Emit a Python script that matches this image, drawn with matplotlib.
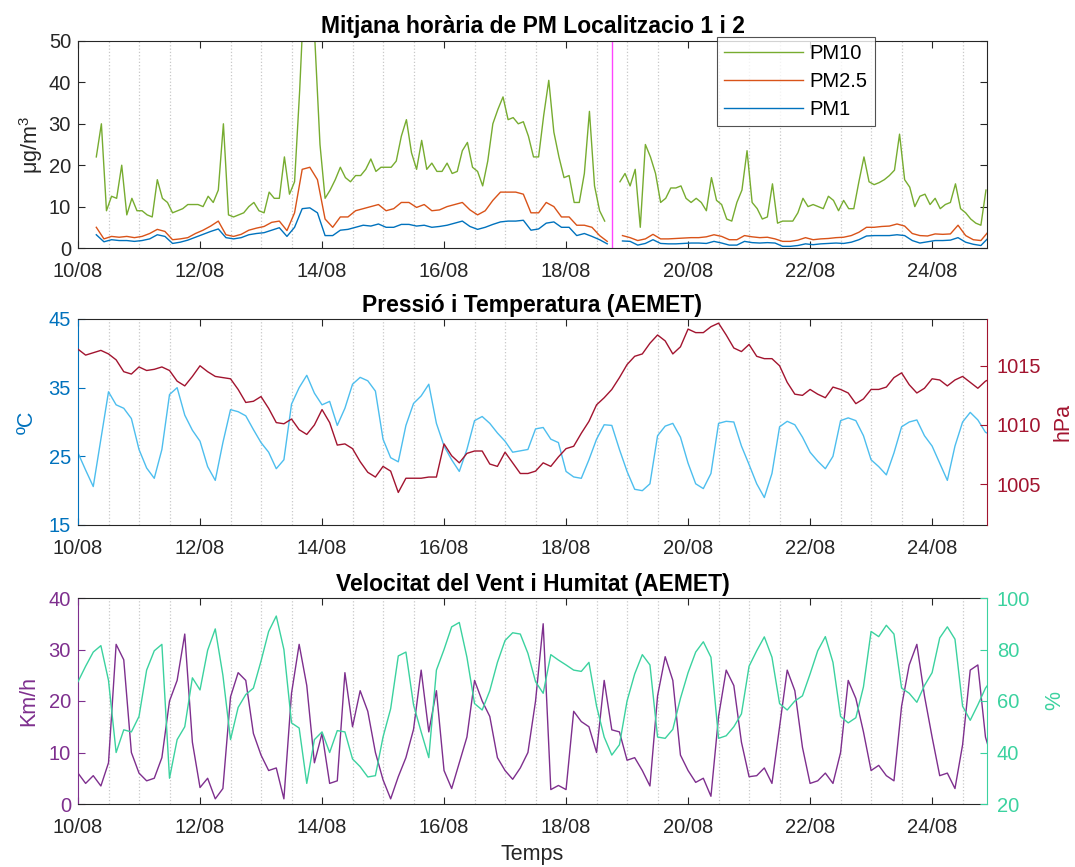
import numpy as np
import matplotlib
matplotlib.use('Agg')
import matplotlib.pyplot as plt

plt.rcParams['font.family'] = ['Liberation Sans', 'DejaVu Sans']
plt.rcParams['mathtext.fontset'] = 'custom'
plt.rcParams['mathtext.rm'] = 'Liberation Sans'

# x axis: days since 10/08 00:00
day_ticks = [0, 2, 4, 6, 8, 10, 12, 14]
day_labels = ['10/08', '12/08', '14/08', '16/08', '18/08', '20/08', '22/08', '24/08']
x_end = 14.9
station_change = 8.75   # canvi de localitzacio (18/08 18h)

# PM10, every 2 h from 10/08 07:12
pm10_start, pm10_step = 0.3, 1 / 12
pm10 = [22, 30, 9, 12.5, 12, 20, 8, 12, 9, 9, 8, 7.5, 16.5, 12, 11, 8.5, 9, 9.5,
        10.5, 10.5, 10.5, 10, 12.5, 11, 14, 30, 8, 7.5, 8, 8.5, 10, 11, 9, 8.5,
        13.5, 12, 12, 22, 13, 16, 38, 65, 62, 50, 25, 12, 14, 16.5, 19.5, 17, 16,
        17.5, 17.5, 19, 21.5, 18.5, 19.5, 19.5, 19.5, 21, 27, 31, 23, 19, 26, 19,
        20.5, 18.5, 18.5, 20.5, 18, 18.5, 23.5, 25.5, 19.5, 18.5, 15, 21, 30,
        33.5, 36.5, 31, 31.5, 30, 30.5, 27, 22, 22, 32, 40.5, 28, 22, 17, 17.5,
        11, 11, 18, 33, 15, 9, 6.5, np.nan, np.nan, 16, 18, 15, 19, 5, 25, 22,
        18, 11, 12, 14.5, 14.5, 15, 12, 11, 12, 11, 9, 17, 11.5, 10.5, 7, 6.5,
        11, 14, 23.5, 11, 9.5, 7, 7.5, 15.5, 6, 6.5, 6.5, 6.5, 8.5, 12, 10,
        10.5, 10, 9.5, 12.5, 11.5, 9, 11.5, 9.5, 9.5, 16, 22, 16, 15.3, 15.8,
        16.5, 17.5, 18.8, 27.5, 16.5, 14.7, 10, 12.5, 13, 10.5, 12, 9.5, 10.5,
        11, 15.5, 9.5, 8.5, 7, 6, 5.5, 14]

# PM2.5 and PM1, every 3 h from 10/08 07:12
pm_start, pm_step = 0.3, 1 / 8
pm25 = [5, 2.2, 2.8, 2.6, 2.8, 2.5, 2.8, 3.5, 4.5, 4, 2.0, 2.2, 2.5, 3.5, 4.3,
        5.3, 6.5, 3.2, 2.8, 3.3, 4.3, 4.8, 5.2, 6.2, 6.5, 4.2, 8.5, 19, 19.5,
        16.5, 7, 5, 7.5, 7.5, 9, 9.5, 10, 10.5, 9, 9.5, 11, 11, 9.8, 10.5, 9,
        9.2, 10, 10.5, 11, 9.2, 8, 9, 11.5, 13.5, 13.5, 13.5, 13, 8.5, 8.5, 11,
        10, 7.5, 7.5, 5.5, 5.5, 5, 3, 1.6, np.nan, 3, 2.5, 1.8, 2.2, 3.3, 2.2,
        2.2, 2.3, 2.4, 2.5, 2.5, 2.7, 3.2, 2.8, 2, 2, 3, 2.7, 2.5, 2.6, 2.2,
        1.6, 1.6, 1.9, 2.5, 2, 2.2, 2.3, 2.5, 2.6, 3, 3.8, 5, 5, 5.2, 5.3, 5.8,
        5.3, 3.5, 3, 2.9, 3.4, 3.3, 3.4, 5.5, 3, 2, 1.8, 4]
pm1 = [3.2, 1.5, 2, 1.8, 1.8, 1.6, 1.8, 2.2, 3.2, 2.8, 1.1, 1.4, 1.9, 2.6, 3.3,
       4, 4.6, 2.5, 2.2, 2.5, 3.2, 3.5, 3.7, 4.3, 4.9, 2.8, 5, 9.5, 9.7, 8.5,
       3, 3, 4.3, 4.5, 5, 5.5, 5.3, 5.8, 5, 5, 5.7, 5.7, 5.3, 5.5, 5, 5.2, 5.5,
       6, 6.5, 5.2, 4.5, 5, 5.7, 6.3, 6.5, 6.5, 6.7, 4.3, 4.6, 6, 6.3, 5, 5, 3,
       3.5, 2.8, 2, 1, np.nan, 1.7, 1.6, 0.7, 1.1, 2, 1.1, 1, 1, 1.1, 1.2, 1.2,
       1.1, 1.6, 1.2, 0.7, 0.7, 1.6, 1.3, 1.2, 1.3, 1.2, 0.4, 0.4, 0.6, 1, 0.8,
       1, 1.1, 1.2, 1.1, 1.4, 2, 2.9, 3, 3, 3, 3.2, 3, 1.8, 1.2, 1.5, 1.8, 1.8,
       1.9, 2.5, 1.4, 0.9, 0.6, 2.5]

# AEMET, every 3 h from 10/08 00:00
met_start, met_step = 0.0, 1 / 8
temperature = [25.5, 23, 20.6, 27.5, 34.4, 32.5, 32, 30.5, 26, 23.3, 21.8, 26,
               34, 35, 31, 28.8, 27.2, 23.5, 21.5, 27, 31.8, 31.5, 30.9, 28.9,
               27, 25.6, 23.2, 24.5, 32.6, 35, 36.8, 34.2, 32.5, 33, 29.5, 32,
               35.5, 36.5, 36, 34.5, 27.5, 24.8, 24.2, 29.5, 32.7, 33.8, 35.5,
               29.8, 26.5, 24.5, 22.8, 26, 30.2, 30.8, 29.8, 28.4, 27.2, 25.6,
               25.8, 26, 29, 29.2, 27.5, 27, 22.8, 22, 21.8, 24.5, 27.5, 29.6,
               29.5, 26, 22.8, 20.2, 20, 21, 28, 29.4, 29.8, 27.8, 24, 21, 20.3,
               22.5, 29.8, 30.1, 30, 26.5, 23.8, 21, 19, 22.5, 29.3, 30.1, 29.6,
               27.8, 25.6, 24.3, 23.2, 25, 30.2, 30.6, 30.2, 28, 24.5, 23.5,
               22.3, 25.5, 29.3, 30, 30.3, 28, 26.5, 24, 21.5, 26.5, 30, 31.4,
               30.3, 28.5, 28]
pressure = [1016.4, 1015.9, 1016.1, 1016.3, 1016, 1015.5, 1014.5, 1014.3,
            1014.9, 1014.6, 1014.7, 1014.9, 1014.6, 1013.7, 1013.3, 1014.1,
            1015, 1014.5, 1014.1, 1014, 1013.9, 1013, 1011.9, 1012, 1012.4,
            1011.4, 1010.2, 1010.1, 1010.5, 1009.6, 1009.2, 1010, 1011.3,
            1010.2, 1008.3, 1008.4, 1008, 1006.9, 1006, 1005.6, 1006.5, 1006.1,
            1004.3, 1005.5, 1005.5, 1005.5, 1005.6, 1005.6, 1008.4, 1007.4,
            1006.8, 1007.6, 1007.8, 1007.8, 1006.7, 1006.5, 1007.7, 1006.8,
            1005.9, 1005.9, 1006.1, 1006.8, 1006.5, 1007.3, 1008, 1008.2,
            1009.3, 1010.3, 1011.7, 1012.3, 1013, 1014, 1015.1, 1015.8, 1016,
            1016.9, 1017.6, 1017.1, 1016, 1016.6, 1018.1, 1017.8, 1017.8,
            1018.3, 1018.6, 1017.6, 1016.5, 1016.2, 1016.8, 1015.8, 1015.6,
            1015.6, 1015, 1013.6, 1012.6, 1012.5, 1013, 1012.6, 1012.3, 1013.2,
            1013, 1012.7, 1011.8, 1012.2, 1013, 1013, 1013.2, 1014, 1014.4,
            1013.4, 1012.7, 1013.1, 1013.9, 1013.8, 1013.3, 1013.8, 1014.1,
            1013.6, 1013.1, 1013.7, 1014]
wind = [6, 4, 5.5, 3.5, 8, 31, 28, 10, 6, 4.5, 5, 9, 20, 24, 33, 12, 3.2, 5, 1,
        3, 20.8, 25.5, 24, 13.7, 9.5, 6.5, 7, 1, 21.5, 31, 23, 8, 13.7, 4, 4.5,
        25.5, 15, 22, 18, 10, 4.7, 1, 5.3, 9, 14.5, 26, 14, 22, 6.5, 3, 8, 13,
        24, 20, 17, 9, 6.5, 4.8, 7, 10, 20, 35, 2.8, 3.6, 2.8, 18, 16, 15, 10,
        24, 14.4, 14, 8.5, 9, 6.5, 3.5, 21, 28.6, 24, 9.5, 6.5, 4.2, 5, 1.5,
        17, 26, 23, 12, 5.3, 5.5, 7, 4, 15, 26, 22, 11, 4, 4.5, 6, 4, 10, 24,
        20.5, 14, 6.5, 7.5, 5.5, 4.5, 19, 27, 31, 21, 13, 5.5, 6, 3, 11.5, 26,
        27, 13, 8]
humidity = [67.5, 73.5, 79, 81.5, 68, 40, 48.8, 48, 54, 72, 79.5, 82, 30, 45,
            50, 69, 64.3, 79.7, 88, 70, 45, 57.5, 62.5, 65, 75.5, 87, 93, 80,
            51.5, 49.5, 28, 45, 48, 40, 48.5, 48, 37.5, 34.5, 30.5, 31, 46, 57,
            77.5, 79, 58.5, 48, 38, 72, 80, 88.8, 90.5, 77, 59, 56.5, 64, 75,
            83.5, 86.5, 86, 78.5, 67.5, 63, 78, 75.9, 74, 72, 71.5, 75, 58, 46,
            39, 43, 60, 70.5, 78, 74, 46, 45.5, 49, 61, 71, 79, 83, 77, 45.5,
            46.5, 50, 55, 73.5, 79.5, 84.9, 77, 59, 56.5, 60, 62, 70.5, 79.5,
            85, 75, 54, 51.5, 53.5, 65.5, 87, 85, 89.4, 86, 65, 63, 59.5, 66,
            71, 84.5, 88.8, 84, 58, 52.5, 58.5, 65, 69]

t_pm10 = pm10_start + pm10_step * np.arange(len(pm10))
t_pm = pm_start + pm_step * np.arange(len(pm25))
t_met = met_start + met_step * np.arange(len(temperature))

c_pm10 = '#77AC30'
c_pm25 = '#D95319'
c_pm1 = '#0072BD'
c_temp = '#4DBEEE'
c_tax = '#0072BD'
c_pres = '#A2142F'
c_wind = '#7E2F8E'
c_hum = '#3BD29F'
c_axis = '#262626'

fs_tick = 14.5
fs_title = 16.5
fs_label = 15.5


def style_xaxis(ax):
    ax.set_xlim(0, x_end)
    ax.set_xticks(day_ticks)
    ax.set_xticklabels(day_labels)
    ax.set_xticks(np.arange(0.5, x_end, 0.5), minor=True)
    ax.grid(which='minor', axis='x', linestyle=':', color='#c8c8c8', lw=0.9)
    ax.tick_params(axis='x', which='major', direction='in', length=5,
                   top=True, labelsize=fs_tick, colors=c_axis, width=0.8,
                   pad=10)
    ax.tick_params(axis='x', which='minor', length=0)
    for s in ['top', 'bottom']:
        ax.spines[s].set_color(c_axis)
        ax.spines[s].set_linewidth(0.8)


fig = plt.figure(figsize=(10.75, 8.67), dpi=100)
ax_left = 78 / 1075
ax_w = 909 / 1075
ax_h = 206 / 867

# ---------------- PM panel
ax1 = fig.add_axes([ax_left, 1 - 248 / 867, ax_w, 207 / 867])
ax1.plot(t_pm10, pm10, color=c_pm10, lw=1.0, label='PM10')
ax1.plot(t_pm, pm25, color=c_pm25, lw=1.0, label='PM2.5')
ax1.plot(t_pm, pm1, color=c_pm1, lw=1.0, label='PM1')
ax1.axvline(station_change, color='#FF44FF', lw=1.0)
ax1.set_ylim(0, 50)
ax1.set_yticks([0, 10, 20, 30, 40, 50])
style_xaxis(ax1)
ax1.tick_params(axis='y', direction='in', length=5, right=True,
                labelsize=fs_tick, colors=c_axis, width=0.8, pad=5)
for s in ['left', 'right']:
    ax1.spines[s].set_color(c_axis)
    ax1.spines[s].set_linewidth(0.8)
ax1.set_ylabel('μg/m$^3$', fontsize=fs_label, color=c_axis, labelpad=3)
ax1.set_title('Mitjana horària de PM Localitzacio 1 i 2', fontsize=fs_title,
              fontweight='bold', pad=6)
leg = ax1.legend(loc='upper left', bbox_to_anchor=(717 / 1075, 1 - 37 / 867),
                 bbox_transform=fig.transFigure, fontsize=fs_tick,
                 handlelength=3.9, frameon=True, fancybox=False,
                 borderpad=0.35, labelspacing=0.45, handletextpad=0.35,
                 borderaxespad=0)
leg.get_frame().set_edgecolor(c_axis)
leg.get_frame().set_linewidth(0.8)
leg.set_zorder(5)

# ---------------- Pressure / temperature panel
ax2 = fig.add_axes([ax_left, 1 - 525 / 867, ax_w, ax_h])
ax2.plot(t_met, temperature, color=c_temp, lw=1.0)
ax2.set_ylim(15, 45)
ax2.set_yticks([15, 25, 35, 45])
style_xaxis(ax2)
ax2.tick_params(axis='y', direction='in', length=5, labelsize=fs_tick,
                colors=c_tax, width=0.8, pad=5)
ax2.spines['left'].set_color(c_tax)
ax2.spines['right'].set_visible(False)
ax2.set_ylabel('ºC', fontsize=fs_label, color=c_tax, labelpad=8)
ax2.set_title('Pressió i Temperatura (AEMET)', fontsize=fs_title,
              fontweight='bold', pad=5)

ax2r = ax2.twinx()
ax2r.plot(t_met, pressure, color=c_pres, lw=1.0)
ax2r.set_ylim(1001.55, 1018.95)
ax2r.set_yticks([1005, 1010, 1015])
ax2r.tick_params(axis='y', direction='in', length=5, labelsize=fs_tick,
                 colors=c_pres, width=0.8, pad=7)
ax2r.spines['right'].set_color(c_pres)
for s in ['left', 'top', 'bottom']:
    ax2r.spines[s].set_visible(False)
ax2r.set_ylabel('hPa', fontsize=fs_label, color=c_pres, labelpad=8)
ax2r.set_xlim(0, x_end)

# ---------------- Wind / humidity panel
ax3 = fig.add_axes([ax_left, 1 - 804 / 867, ax_w, ax_h])
ax3.plot(t_met, wind, color=c_wind, lw=1.0)
ax3.set_ylim(0, 40)
ax3.set_yticks([0, 10, 20, 30, 40])
style_xaxis(ax3)
ax3.tick_params(axis='y', direction='in', length=5, labelsize=fs_tick,
                colors=c_wind, width=0.8, pad=5)
ax3.spines['left'].set_color(c_wind)
ax3.spines['right'].set_visible(False)
ax3.set_ylabel('Km/h', fontsize=fs_label, color=c_wind, labelpad=7)
ax3.set_xlabel('Temps', fontsize=fs_label, color=c_axis, labelpad=5)
ax3.set_title('Velocitat del Vent i Humitat (AEMET)', fontsize=fs_title,
              fontweight='bold', pad=5)

ax3r = ax3.twinx()
ax3r.plot(t_met, humidity, color=c_hum, lw=1.0)
ax3r.set_ylim(20, 100)
ax3r.set_yticks([20, 40, 60, 80, 100])
ax3r.tick_params(axis='y', direction='in', length=5, labelsize=fs_tick,
                 colors=c_hum, width=0.8, pad=7)
ax3r.spines['right'].set_color(c_hum)
for s in ['left', 'top', 'bottom']:
    ax3r.spines[s].set_visible(False)
ax3r.set_ylabel('%', fontsize=fs_label, color=c_hum, labelpad=10)
ax3r.set_xlim(0, x_end)

fig.savefig('out.png', dpi=100)
